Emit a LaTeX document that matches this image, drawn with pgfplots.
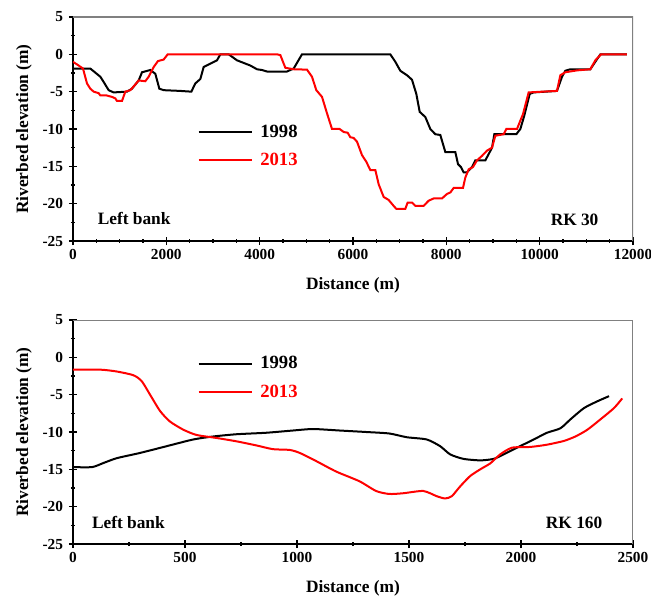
\documentclass[border=0pt]{standalone}
\usepackage{fontspec}
\setmainfont{Liberation Serif}
\usepackage{pgfplots}
\pgfplotsset{compat=1.18}

\pgfplotsset{
  river/.style={
    width=420pt, height=168pt, scale only axis,
    axis x line*=bottom, axis y line*=left,
    axis line style={line width=1.2pt, -},
    ymin=-25, ymax=5, ytick={-25,-20,...,5},
    minor y tick num=1,
    tick align=center,
    major tick length=6pt, minor tick length=3pt,
    every tick/.style={black, line width=0.9pt},
    scaled x ticks=false,
    /pgf/number format/assume math mode=true,
    /pgf/number format/1000 sep={},
    tick label style={font=\bfseries\fontsize{11.5}{13}\selectfont},
    yticklabel style={xshift=-1pt},
    xlabel={Distance (m)}, ylabel={Riverbed elevation (m)},
    every axis x label/.style={at={(axis description cs:0.5,-0.196)}, anchor=center,
      font=\bfseries\fontsize{13}{15}\selectfont},
    every axis y label/.style={at={(axis description cs:-0.0875,0.5)}, rotate=90, anchor=center,
      font=\bfseries\fontsize{13}{15}\selectfont},
    legend image code/.code={\draw[#1, line width=1.5pt] (0pt,0pt) -- (40pt,0pt);},
    legend style={draw=none, fill=none, inner sep=0pt, row sep=6.5pt,
      font=\bfseries\fontsize{14}{16}\selectfont,
      nodes={inner ysep=2pt, inner xsep=5.5pt}},
    legend cell align=left,
  }
}

\begin{document}
\begin{tikzpicture}
\path[use as bounding box] (-54.75pt,-39.75pt) rectangle (433.5pt,408pt);

\begin{axis}[river, at={(0pt,227.25pt)},
  xmin=0, xmax=12000, xtick={0,2000,...,12000}, minor x tick num=3,
  legend style={at={(0.222,0.532)}, anchor=north west}]
\addplot[black, line width=1.5pt] coordinates {
(0,-1.9) (370,-1.9) (586,-3.0) (657,-3.7) (764,-4.8) (870,-5.1) (1157,-5.0) (1264,-4.6) (1407,-3.5) (1479,-2.4) (1657,-2.1) (1764,-2.6) (1850,-4.6) (1943,-4.8) (2300,-4.9) (2536,-5.0) (2621,-3.9) (2729,-3.3) (2800,-1.7) (2943,-1.25) (3086,-0.8) (3157,0) (3336,0) (3514,-0.8) (3800,-1.5) (3943,-2.0) (4050,-2.1) (4157,-2.3) (4586,-2.3) (4729,-1.9) (4907,0) (6800,0) (6907,-1.0) (7014,-2.2) (7157,-2.8) (7264,-3.4) (7357,-5.3) (7429,-7.7) (7550,-8.4) (7657,-10.0) (7764,-10.7) (7871,-10.8) (7979,-13.1) (8193,-13.1) (8250,-14.7) (8314,-15.1) (8371,-15.8) (8443,-15.8) (8550,-15.1) (8621,-14.2) (8836,-14.2) (8929,-13.1) (8979,-12.5) (9029,-10.7) (9500,-10.7) (9586,-10.0) (9671,-8.2) (9786,-5.3) (9871,-5.1) (10371,-4.9) (10479,-3.0) (10550,-2.2) (10657,-2.0) (11086,-2.0) (11193,-1.0) (11300,0) (11871,0)
};
\addplot[red, line width=1.5pt] coordinates {
(0,-1.0) (121,-1.5) (214,-1.9) (300,-3.9) (371,-4.6) (443,-5.0) (550,-5.2) (586,-5.5) (714,-5.5) (836,-5.7) (907,-5.9) (943,-6.25) (1050,-6.25) (1121,-5.0) (1229,-4.8) (1314,-4.2) (1407,-3.5) (1550,-3.6) (1621,-3.0) (1729,-1.7) (1821,-0.9) (1943,-0.7) (2029,0) (4371,0) (4443,-0.1) (4550,-1.8) (4729,-2.0) (5014,-2.05) (5121,-3.0) (5214,-4.8) (5336,-5.7) (5443,-7.9) (5550,-10.0) (5714,-10.0) (5800,-10.4) (5886,-10.5) (5943,-11.1) (6014,-11.2) (6086,-11.7) (6193,-13.5) (6286,-14.4) (6371,-15.5) (6479,-15.5) (6550,-17.4) (6657,-19.1) (6764,-19.5) (6871,-20.3) (6929,-20.7) (7121,-20.7) (7171,-19.85) (7264,-19.85) (7336,-20.3) (7514,-20.3) (7621,-19.6) (7729,-19.3) (7907,-19.3) (8014,-18.7) (8086,-18.5) (8157,-17.9) (8357,-17.9) (8407,-16.5) (8479,-15.4) (8571,-15.1) (8657,-14.2) (8764,-13.6) (8871,-12.9) (8979,-12.5) (9050,-10.9) (9229,-10.7) (9286,-10.0) (9514,-10.0) (9643,-8.0) (9764,-5.1) (10371,-4.9) (10443,-2.8) (10550,-2.4) (10800,-2.15) (11086,-2.0) (11193,-0.8) (11314,0) (11871,0)
};
\legend{1998, \textcolor{red}{2013}}
\draw[gray, line width=0.8pt] (rel axis cs:0,1) -- (rel axis cs:1,1) -- (rel axis cs:1,0);
\node[anchor=west, font=\bfseries\fontsize{13}{15}\selectfont] at (axis cs:430,-22) {Left bank};
\node[anchor=east, font=\bfseries\fontsize{13}{15}\selectfont] at (axis cs:11360,-22.2) {RK 30};
\end{axis}

\begin{axis}[river, at={(0pt,0pt)},
  xmin=0, xmax=2500, xtick={0,500,...,2500}, minor x tick num=1,
  legend style={at={(0.222,0.85)}, anchor=north west}]
\addplot[black, line width=1.5pt, smooth, tension=0.4] coordinates {
(0,-14.7) (85,-14.7) (136,-14.15) (196,-13.5) (300,-12.8) (418,-11.9) (537,-11.0) (626,-10.6) (730,-10.3) (863,-10.1) (982,-9.8) (1071,-9.6) (1190,-9.8) (1309,-10.0) (1412,-10.2) (1490,-10.7) (1579,-11.0) (1639,-11.9) (1684,-13.0) (1743,-13.6) (1818,-13.8) (1878,-13.6) (1922,-13.0) (1982,-12.1) (2057,-11.0) (2116,-10.1) (2176,-9.5) (2221,-8.3) (2281,-6.8) (2340,-5.9) (2393,-5.2)
};
\addplot[red, line width=1.5pt, smooth, tension=0.4] coordinates {
(0,-1.65) (122,-1.65) (196,-1.9) (270,-2.4) (307,-3.2) (344,-5.0) (389,-7.2) (433,-8.6) (493,-9.7) (552,-10.4) (641,-10.8) (730,-11.25) (819,-11.8) (893,-12.3) (967,-12.4) (1012,-12.8) (1086,-13.9) (1175,-15.3) (1279,-16.6) (1353,-17.9) (1412,-18.3) (1475,-18.2) (1564,-17.9) (1624,-18.6) (1661,-18.9) (1691,-18.6) (1728,-17.3) (1773,-15.9) (1818,-15.0) (1863,-14.2) (1907,-13.0) (1960,-12.1) (2042,-12.0) (2116,-11.7) (2191,-11.2) (2243,-10.6) (2296,-9.7) (2355,-8.3) (2415,-6.8) (2452,-5.5)
};
\legend{1998, \textcolor{red}{2013}}
\draw[gray, line width=0.8pt] (rel axis cs:0,1) -- (rel axis cs:1,1) -- (rel axis cs:1,0);
\node[anchor=west, font=\bfseries\fontsize{13}{15}\selectfont] at (axis cs:64,-22.1) {Left bank};
\node[anchor=east, font=\bfseries\fontsize{13}{15}\selectfont] at (axis cs:2384,-22.1) {RK 160};
\end{axis}
\end{tikzpicture}
\end{document}
